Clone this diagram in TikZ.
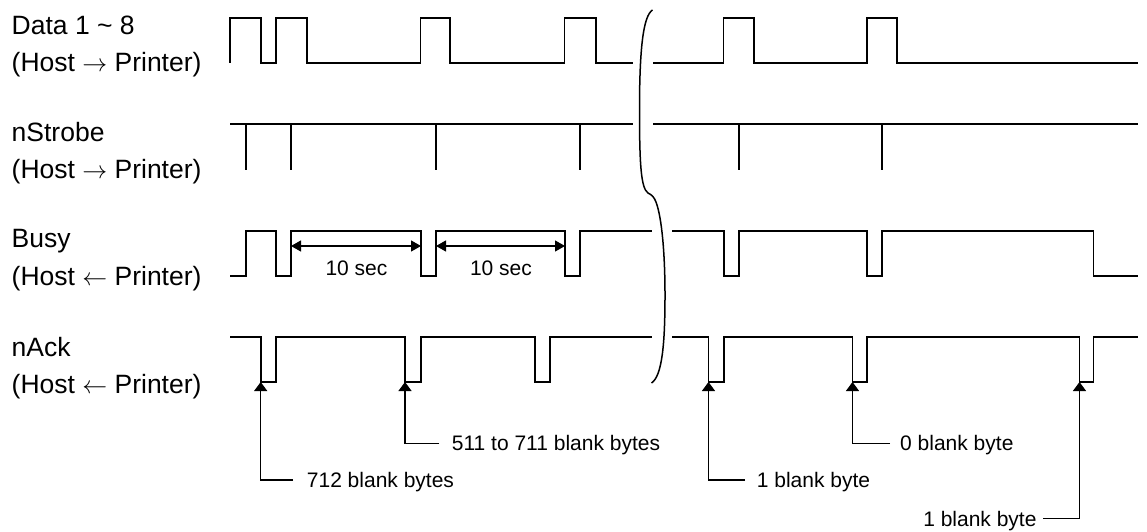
\documentclass[tikz,border=0pt]{standalone}
\usepackage{fontspec}
\setmainfont{Liberation Sans}
\usetikzlibrary{arrows.meta}
\begin{document}
\begin{tikzpicture}[x=1pt,y=-1pt,
  wave/.style={line width=1.7pt, line join=miter},
  brace/.style={line width=1.5pt},
  ann/.style={line width=1.2pt, -{Triangle[length=9pt,width=13pt]}},
  dimline/.style={line width=1.2pt, {Triangle[length=10pt,width=11pt]}-{Triangle[length=10pt,width=11pt]}},
  sig/.style={anchor=base west, inner sep=0pt, font=\fontsize{26.5}{30}\selectfont},
  small/.style={inner sep=0pt, font=\fontsize{21}{24}\selectfont}]
\useasboundingbox (0,0) rectangle (1147,532);

% signal names
\node[sig] (n1a) at (11.5,34.3) {Data 1 \textasciitilde{} 8};
\node[sig] (n1b) at (11.5,71.7) {(Host $\rightarrow$ Printer)};
\node[sig] (n2a) at (11.5,141) {nStrobe};
\node[sig] (n2b) at (11.5,178.5) {(Host $\rightarrow$ Printer)};
\node[sig] (n3a) at (11.5,247.3) {Busy};
\node[sig] (n3b) at (11.5,285) {(Host $\leftarrow$ Printer)};
\node[sig] (n4a) at (11.5,356) {nAck};
\node[sig] (n4b) at (11.5,393.5) {(Host $\leftarrow$ Printer)};

% Data 1~8
\draw[wave] (230,63) -- (230,18) -- (261.3,18) -- (261.3,63) -- (276,63) -- (276,18)
  -- (306.7,18) -- (306.7,63) -- (420.5,63) -- (420.5,18) -- (450,18) -- (450,63)
  -- (564.5,63) -- (564.5,18) -- (595.7,18) -- (595.7,63) -- (632.5,63);
\draw[wave] (653.3,63) -- (723.5,63) -- (723.5,18) -- (754.3,18) -- (754.3,63)
  -- (866.7,63) -- (866.7,18) -- (896.7,18) -- (896.7,63) -- (1138,63);

% nStrobe
\draw[wave] (230,124) -- (632.5,124);
\draw[wave] (653.3,124) -- (1138,124);
\foreach \x in {246,291,436,580,739,882}
  \draw[wave] (\x,124) -- (\x,170);

% Busy
\draw[wave] (230,276) -- (246,276) -- (246,231) -- (276,231) -- (276,276) -- (291,276)
  -- (291,231) -- (421,231) -- (421,276) -- (436,276) -- (436,231) -- (565,231)
  -- (565,276) -- (580,276) -- (580,231) -- (652,231);
\draw[wave] (672,231) -- (724,231) -- (724,276) -- (739,276) -- (739,231) -- (867,231)
  -- (867,276) -- (882,276) -- (882,231) -- (1093.5,231) -- (1093.5,276) -- (1138,276);

% 10 sec dimensions
\coordinate (d1a) at (291,246); \coordinate (d1b) at (421,246);
\coordinate (d2a) at (436,246); \coordinate (d2b) at (565,246);
\draw[dimline] (d1a) -- (d1b);
\draw[dimline] (d2a) -- (d2b);
\node[small, anchor=base] (s1) at (356.5,275) {10 sec};
\node[small, anchor=base] (s2) at (501,275) {10 sec};

% nAck
\draw[wave] (230,337) -- (260.7,337) -- (260.7,382) -- (276,382) -- (276,337) -- (405,337)
  -- (405,382) -- (421,382) -- (421,337) -- (535,337) -- (535,382) -- (550,382)
  -- (550,337) -- (652,337);
\draw[wave] (672,337) -- (708.5,337) -- (708.5,382) -- (724,382) -- (724,337) -- (852.5,337)
  -- (852.5,382) -- (867,382) -- (867,337) -- (1079.5,337) -- (1079.5,382) -- (1093.5,382)
  -- (1093.5,337) -- (1138,337);

% break mark
\draw[brace] (652.5,10) .. controls (643,16) and (639.5,50) .. (639.5,110)
  .. controls (639.5,165) and (641,188) .. (648,193)
  .. controls (652,195) and (654,197) .. (656,202)
  .. controls (662,218) and (665,255) .. (665,295)
  .. controls (665,345) and (662,376) .. (651.5,383);

% annotation tips
\coordinate (t1) at (260.7,382);
\coordinate (t2) at (405,382);
\coordinate (t3) at (708.5,382);
\coordinate (t4) at (852.5,382);
\coordinate (t5) at (1079.5,382);

% annotation labels
\node[small, anchor=base west] (l1) at (306.7,487.5) {712 blank bytes};
\node[small, anchor=base west] (l2) at (451.7,450.5) {511 to 711 blank bytes};
\node[small, anchor=base west] (l3) at (756.7,487.5) {1 blank byte};
\node[small, anchor=base west] (l4) at (900,450.5) {0 blank byte};
\node[small, anchor=base east] (l5) at (1036.7,526) {1 blank byte};

\draw[ann] ([shift={(-13.7,-7.5)}]l1.base west) -| (t1);
\draw[ann] ([shift={(-12.4,-7.2)}]l2.base west) -| (t2);
\draw[ann] ([shift={(-11.7,-7.5)}]l3.base west) -| (t3);
\draw[ann] ([shift={(-10,-7.2)}]l4.base west) -| (t4);
\draw[ann] ([shift={(6.6,-7.7)}]l5.base east) -| (t5);
\end{tikzpicture}
\end{document}
